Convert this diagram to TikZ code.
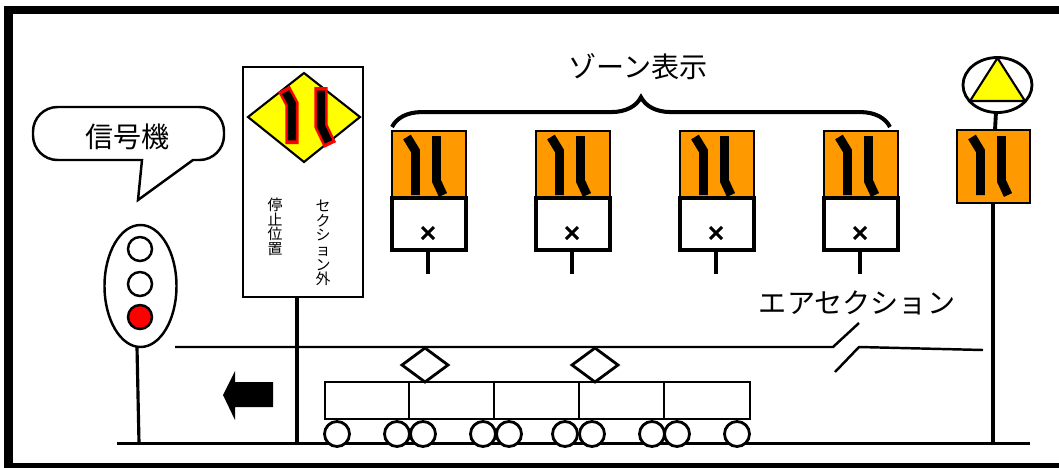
\documentclass[tikz,border=0pt]{standalone}
\usepackage{fontspec}
\newfontfamily\jpfont{Noto Sans CJK JP}
\usetikzlibrary{decorations.pathreplacing}
\definecolor{signorange}{RGB}{255,153,0}
\definecolor{signyellow}{RGB}{255,255,0}
\definecolor{signred}{RGB}{255,0,0}

% lane mark drawn inside a 74 x 67 sign plate, origin at its top left
\newcommand{\lanemark}{%
  \draw[lanebar] (23.5,64) -- (23.5,20) -- (15,6);
  \draw[lanebar] (44.5,5) -- (44.5,50) -- (51,64);
}

\begin{document}
\begin{tikzpicture}[
  x=0.02cm, y=-0.02cm,
  frame/.style={line width=5.1pt},
  wire/.style={line width=1.4pt},
  rail/.style={line width=1.7pt},
  pole/.style={line width=2.4pt},
  outline/.style={draw=black, line width=1.4pt},
  plate/.style={draw=black, fill=signorange, line width=1.4pt},
  subplate/.style={draw=black, fill=white, line width=2.8pt},
  lanebar/.style={line width=5.1pt, line join=miter},
  car/.style={draw=black, line width=1.6pt},
  jplabel/.style={font=\jpfont\fontsize{16}{18}\selectfont, inner sep=0pt},
  vtext/.style={font=\jpfont\fontsize{8.5}{8.3}\selectfont, align=center, inner sep=0pt}
]
\useasboundingbox (0,0) rectangle (1059,467);
\clip (0,0) rectangle (1059,467);

% outer frame
\draw[frame] (8.5,10) rectangle (1070,467);

% ground and overhead wire with the air section
\draw[rail] (117,443) -- (1030,443);
\draw[wire] (175,347) -- (833,347) -- (859,323);
\draw[wire] (835,372) -- (859,347) -- (983,350);
\node[jplabel] (airsec) at (857,303) {エアセクション};

% signal and its callout
\draw[outline] (140.5,286) ellipse [x radius=36, y radius=61];
\draw[outline] (140,249) circle [radius=12];
\draw[outline] (140,284) circle [radius=12];
\draw[outline, fill=signred] (140,317) circle [radius=12];
\draw[pole, line width=1.8pt] (137,347) -- (139,443);
\draw[outline] (142,160) [rounded corners=14]-- (33,160) -- (33,107) -- (224,107) -- (224,160)
  [sharp corners]-- (193,160) -- (138,200) -- cycle;
\node[jplabel] (signame) at (127.5,137) {信号機};

% stop position board
\draw[pole] (297,297) -- (297,443);
\draw[outline, line width=1.7pt, fill=white] (243,67) rectangle (363,297);
\draw[outline, fill=signyellow, line width=1.2pt] (304,73) -- (360,117) -- (304,162) -- (248,117) -- cycle;
\draw[line width=7.5pt, signred] (292,144) -- (292,104) -- (284,89);
\draw[line width=4.6pt, shorten <=2pt, shorten >=2pt] (292,144) -- (292,104) -- (284,89);
\draw[line width=7.5pt, signred] (321,87) -- (321,126) -- (330,145);
\draw[line width=4.6pt, shorten <=2pt, shorten >=2pt] (321,87) -- (321,126) -- (330,145);
\node[vtext] (stoppos) at (275,227) {停\\止\\位\\置};
\node[vtext] (outsec) at (323,243) {セ\\ク\\シ\\ョ\\ン\\外};

% zone indicators
\foreach \k in {0,...,3}{
  \begin{scope}[shift={(144*\k,0)}]
    \draw[pole, line width=2.2pt] (428,250) -- (428,274);
    \draw[plate] (392,131) rectangle (466,198);
    \begin{scope}[shift={(392,131)}]
      \lanemark
    \end{scope}
    \draw[subplate] (392,198) rectangle (466,250);
    \draw[line width=1.8pt] (422,227) -- (434,239) (422,239) -- (434,227);
  \end{scope}
}
\draw[line width=2.3pt, decorate, decoration={brace, amplitude=17pt}] (392,127) -- (890,127);
\node[jplabel] (zone) at (638,67) {ゾーン表示};

% section sign at the right
\draw[pole, line width=2.2pt] (993,203) -- (993,443);
\draw[pole, line width=2.2pt] (996,112) -- (995,130);
\draw[outline, line width=1.6pt] (997.5,85) ellipse [x radius=34.5, y radius=27.5];
\draw[outline, fill=signyellow, line width=1.2pt] (997.5,58) -- (1025,101) -- (970,101) -- cycle;
\draw[plate] (957,130) rectangle (1030,203);
\begin{scope}[shift={(957,131)}]
  \lanemark
\end{scope}

% direction of travel
\fill (223,395) -- (235,371) -- (235,382) -- (273,382) -- (273,407) -- (235,407) -- (235,420) -- cycle;

% train
\foreach \xa/\xb in {325/409, 409/494, 494/579, 579/664, 664/750}
  \draw[car] (\xa,382) rectangle (\xb,419);
\foreach \px in {425, 595}
  \draw[car, fill=white] (\px,348) -- (\px+23,365) -- (\px,382) -- (\px-23,365) -- cycle;
\foreach \wx in {337, 397, 423, 483, 509, 565, 592, 652, 677, 737}
  \draw[car, fill=white] (\wx,434) circle [radius=12.5];
\end{tikzpicture}
\end{document}
